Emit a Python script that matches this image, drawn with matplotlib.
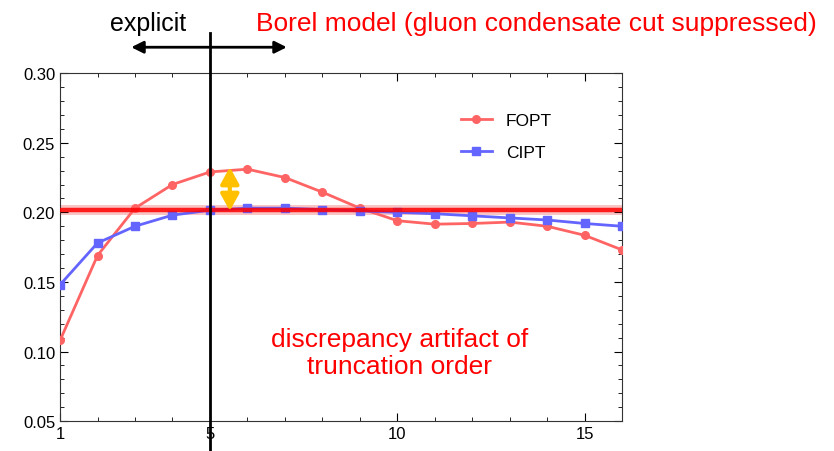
import matplotlib
matplotlib.use("Agg")
from matplotlib import pyplot as plt
import numpy as np

plt.rcParams['font.family'] = ['Liberation Sans', 'DejaVu Sans']

order = np.arange(1, 17)
fopt = [0.108, 0.169, 0.203, 0.220, 0.229, 0.231, 0.225, 0.2145,
        0.203, 0.194, 0.1915, 0.192, 0.193, 0.190, 0.1835, 0.173]
cipt = [0.148, 0.178, 0.190, 0.198, 0.2015, 0.203, 0.203, 0.202,
        0.201, 0.200, 0.199, 0.1975, 0.196, 0.1945, 0.192, 0.190]
borel = 0.2015
band = (0.198, 0.205)
gap = (0.201, 0.2325)  # yellow arrow ends

fig = plt.figure(figsize=(8.34, 4.52), dpi=100)
ax = fig.add_axes([0.072, 0.066, 0.674, 0.770])

ax.axhspan(band[0], band[1], color='#f8c4c4', lw=0, zorder=1)

ax.plot(order, fopt, '-o', color='#ff6464', lw=2, ms=5.5, label='FOPT', zorder=3)
ax.plot(order, cipt, '-s', color='#6464ff', lw=2, ms=5.5, label='CIPT', zorder=3)
ax.axhline(borel, color='#ff0000', lw=3.2, alpha=0.85, zorder=4)

ax.set_xlim(1, 16)
ax.set_ylim(0.05, 0.30)
ax.set_xticks([1, 5, 10, 15])
ax.set_xticks(np.arange(1, 17), minor=True)
ax.set_yticks([0.05, 0.10, 0.15, 0.20, 0.25, 0.30])
ax.set_yticks(np.arange(0.05, 0.301, 0.01), minor=True)
ax.yaxis.set_major_formatter(matplotlib.ticker.FormatStrFormatter('%.2f'))
ax.tick_params(which='both', direction='in', top=True, right=True, labelsize=12)
ax.tick_params(which='major', length=6)
ax.tick_params(which='minor', length=3)
for s in ax.spines.values():
    s.set_color('#333333')

leg = ax.legend(loc='upper left', bbox_to_anchor=(0.685, 0.93), frameon=False,
                fontsize=12.5, handlelength=1.8, labelspacing=0.95)

# vertical line marking order 5
ax.axvline(5, ymin=-0.1, ymax=1.115, color='black', lw=2, clip_on=False, zorder=5)

# yellow double arrow
ax.annotate('', xy=(5.53, gap[0]), xytext=(5.53, gap[1]),
            arrowprops=dict(arrowstyle='<|-|>,head_length=1.0,head_width=0.55',
                            color='#ffc000', lw=3, mutation_scale=10,
                            shrinkA=0, shrinkB=0), zorder=6)

# explicit arrow
ax.annotate('', xy=(2.9, 0.3186), xytext=(7.05, 0.3186),
            xycoords='data', annotation_clip=False,
            arrowprops=dict(arrowstyle='<|-|>', color='black', lw=2,
                            mutation_scale=18, shrinkA=0, shrinkB=0))
fig.text(0.177, 0.947, 'explicit', fontsize=18, ha='center', va='center')
fig.text(0.979, 0.947, 'Borel model (gluon condensate cut suppressed)', fontsize=19,
         color='#ff0000', ha='right', va='center')
ax.text(10.05, 0.0995, 'discrepancy artifact of\ntruncation order', fontsize=19,
        color='#ff0000', ha='center', va='center', linespacing=1.15)

fig.savefig('out.png', dpi=100)
